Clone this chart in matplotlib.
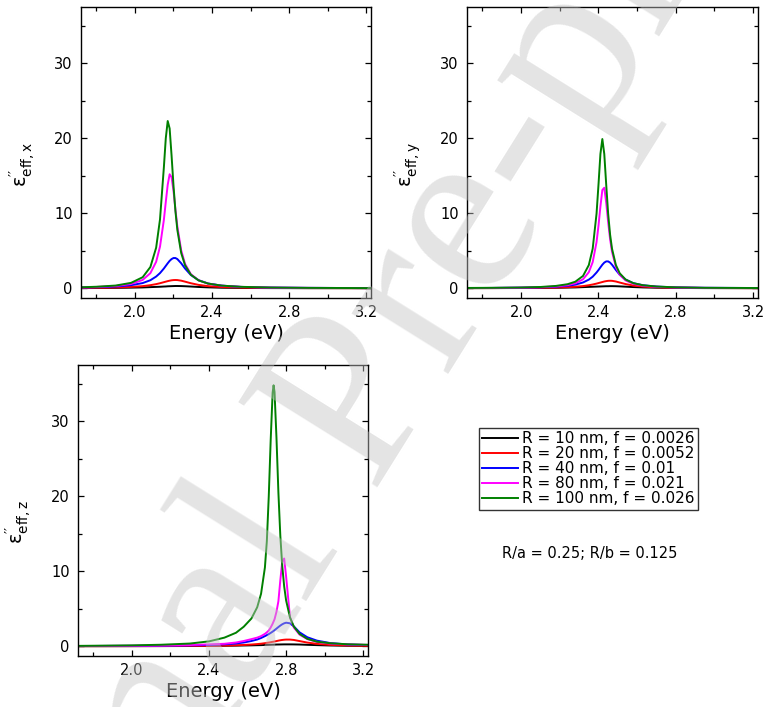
import matplotlib
matplotlib.use("Agg")
import matplotlib.pyplot as plt
from matplotlib.ticker import MultipleLocator

plt.rcParams['font.family'] = ['DejaVu Sans']
plt.rcParams['mathtext.fontset'] = 'dejavusans'

# ---------------- data ----------------
labels = ["R = 10 nm, f = 0.0026", "R = 20 nm, f = 0.0052", "R = 40 nm, f = 0.01",
          "R = 80 nm, f = 0.021", "R = 100 nm, f = 0.026"]
colors = ["#000000", "#ff0000", "#0000ff", "#ff00ff", "#008000"]

# panel x
ex_energy = [1.72, 1.80, 1.90, 1.98, 2.04, 2.08, 2.11, 2.13, 2.15, 2.16, 2.17, 2.18, 2.19,
             2.20, 2.21, 2.22, 2.24, 2.26, 2.29, 2.33, 2.38, 2.45, 2.55, 2.70, 2.90, 3.225]
ex_r10 = [0.02, 0.03, 0.05, 0.08, 0.11, 0.15, 0.18, 0.20, 0.23, 0.24, 0.26, 0.27, 0.28,
          0.29, 0.30, 0.30, 0.29, 0.27, 0.23, 0.17, 0.12, 0.07, 0.04, 0.02, 0.01, 0.005]
ex_r20 = [0.04, 0.06, 0.10, 0.18, 0.28, 0.41, 0.55, 0.67, 0.81, 0.88, 0.95, 1.01, 1.06,
          1.09, 1.10, 1.09, 1.01, 0.88, 0.67, 0.45, 0.28, 0.16, 0.09, 0.04, 0.02, 0.01]
ex_r40 = [0.10, 0.13, 0.23, 0.41, 0.69, 1.07, 1.56, 2.02, 2.63, 2.98, 3.33, 3.65, 3.89,
          4.03, 4.03, 3.89, 3.33, 2.63, 1.77, 1.07, 0.63, 0.35, 0.18, 0.09, 0.05, 0.02]
ex_r80 = [0.11, 0.17, 0.30, 0.57, 1.11, 2.01, 3.53, 5.55, 9.10, 11.5, 13.8, 15.2, 14.8,
          13.0, 10.5, 8.24, 5.05, 3.25, 1.88, 1.06, 0.61, 0.34, 0.18, 0.09, 0.05, 0.02]
ex_r100 = [0.13, 0.20, 0.36, 0.72, 1.47, 2.83, 5.41, 9.18, 16.1, 20.0, 22.3, 21.3, 17.7,
           13.7, 10.3, 7.78, 4.69, 3.06, 1.81, 1.05, 0.62, 0.35, 0.19, 0.10, 0.05, 0.02]

# panel y
ey_energy = [1.72, 1.85, 2.00, 2.10, 2.18, 2.24, 2.28, 2.32, 2.35, 2.37, 2.39, 2.40, 2.41, 2.42,
             2.43, 2.44, 2.45, 2.46, 2.47, 2.49, 2.51, 2.54, 2.58, 2.63, 2.70, 2.80, 2.95, 3.225]
ey_r10 = [0.01, 0.02, 0.03, 0.04, 0.06, 0.09, 0.11, 0.15, 0.18, 0.20, 0.22, 0.23, 0.24, 0.25,
          0.26, 0.27, 0.27, 0.28, 0.28, 0.27, 0.25, 0.21, 0.16, 0.11, 0.07, 0.04, 0.02, 0.01]
ey_r20 = [0.02, 0.02, 0.04, 0.06, 0.09, 0.14, 0.20, 0.29, 0.40, 0.50, 0.62, 0.69, 0.76, 0.83,
          0.90, 0.95, 0.99, 1.00, 0.99, 0.90, 0.76, 0.56, 0.36, 0.22, 0.12, 0.07, 0.03, 0.01]
ey_r40 = [0.03, 0.04, 0.08, 0.12, 0.20, 0.33, 0.48, 0.77, 1.15, 1.54, 2.10, 2.43, 2.79, 3.14,
          3.42, 3.58, 3.58, 3.42, 3.14, 2.43, 1.80, 1.15, 0.68, 0.40, 0.22, 0.12, 0.06, 0.03]
ey_r80 = [0.03, 0.04, 0.08, 0.14, 0.24, 0.41, 0.66, 1.19, 2.14, 3.48, 6.16, 8.33, 10.9, 13.1,
          13.4, 11.4, 8.83, 6.55, 4.86, 2.84, 1.80, 1.05, 0.59, 0.34, 0.19, 0.10, 0.05, 0.02]
ey_r100 = [0.04, 0.06, 0.10, 0.17, 0.31, 0.54, 0.87, 1.64, 3.09, 5.27, 9.95, 13.8, 17.9, 19.9,
           17.9, 13.8, 9.95, 7.16, 5.27, 3.09, 1.99, 1.17, 0.68, 0.40, 0.23, 0.12, 0.06, 0.03]

# panel z
ez_energy = [1.72, 1.85, 2.00, 2.15, 2.30, 2.40, 2.48, 2.54, 2.58, 2.62, 2.65, 2.67, 2.69, 2.70,
             2.71, 2.72, 2.73, 2.735, 2.74, 2.75, 2.76, 2.77, 2.78, 2.79, 2.80, 2.82, 2.84,
             2.87, 2.91, 2.96, 3.03, 3.12, 3.225]
ez_r10 = [0.005, 0.008, 0.012, 0.02, 0.03, 0.045, 0.06, 0.08, 0.10, 0.12, 0.14, 0.15, 0.17, 0.18,
          0.19, 0.20, 0.21, 0.21, 0.22, 0.23, 0.235, 0.24, 0.245, 0.25, 0.25, 0.25, 0.245,
          0.23, 0.19, 0.15, 0.10, 0.06, 0.04]
ez_r20 = [0.01, 0.012, 0.016, 0.024, 0.04, 0.06, 0.09, 0.13, 0.17, 0.23, 0.29, 0.34, 0.41, 0.45,
          0.49, 0.54, 0.59, 0.61, 0.64, 0.69, 0.75, 0.80, 0.84, 0.87, 0.89, 0.89, 0.84,
          0.69, 0.49, 0.32, 0.18, 0.10, 0.06]
ez_r40 = [0.03, 0.04, 0.05, 0.07, 0.11, 0.17, 0.26, 0.37, 0.50, 0.70, 0.90, 1.10, 1.35, 1.48,
          1.62, 1.78, 1.95, 2.05, 2.15, 2.35, 2.56, 2.76, 2.93, 3.06, 3.14, 3.06, 2.65,
          1.85, 1.20, 0.75, 0.42, 0.24, 0.15]
ez_r80 = [0.03, 0.04, 0.06, 0.09, 0.16, 0.25, 0.33, 0.50, 0.70, 0.95, 1.15, 1.35, 1.65, 1.85,
          2.10, 2.50, 3.00, 3.30, 3.60, 4.60, 6.00, 8.80, 11.3, 11.7, 9.30, 3.90, 2.50,
          1.55, 0.95, 0.58, 0.36, 0.24, 0.18]
ez_r100 = [0.05, 0.08, 0.12, 0.20, 0.36, 0.65, 1.15, 1.80, 2.60, 3.70, 5.20, 7.00, 10.5, 14.0,
           20.0, 27.5, 33.8, 34.8, 33.9, 27.8, 20.5, 14.7, 10.7, 7.98, 6.11, 3.85, 2.63,
           1.64, 0.99, 0.61, 0.40, 0.26, 0.20]

x_ticks = [2.0, 2.4, 2.8, 3.2]
y_ticks = [0, 10, 20, 30]
ylabels = [r'$\mathregular{\varepsilon^{\prime\prime}_{eff,x}}$',
           r'$\mathregular{\varepsilon^{\prime\prime}_{eff,y}}$',
           r'$\mathregular{\varepsilon^{\prime\prime}_{eff,z}}$']
xlabel = "Energy (eV)"
note = "R/a = 0.25; R/b = 0.125"
watermark = "Journal Pre-proof"

# ---------------- figure ----------------
W, H = 767, 707
fig = plt.figure(figsize=(W / 100, H / 100), dpi=100)

def rect(l, r, t, b):
    return [l / W, 1 - b / H, (r - l) / W, (b - t) / H]

axes = [fig.add_axes(rect(81, 371, 7, 298)),
        fig.add_axes(rect(467, 758, 7, 298)),
        fig.add_axes(rect(78, 368, 365, 656))]

panels = [
    (ex_energy, [ex_r10, ex_r20, ex_r40, ex_r80, ex_r100]),
    (ey_energy, [ey_r10, ey_r20, ey_r40, ey_r80, ey_r100]),
    (ez_energy, [ez_r10, ez_r20, ez_r40, ez_r80, ez_r100]),
]

handles = []
for i, (ax, (en, series)) in enumerate(zip(axes, panels)):
    hs = []
    for ys, c, lab in zip(series, colors, labels):
        h, = ax.plot(en, ys, color=c, lw=1.4, label=lab)
        hs.append(h)
    handles = hs
    ax.set_xlim(1.72, 3.225)
    ax.set_ylim(-1.3, 37.5)
    ax.set_xticks(x_ticks)
    ax.set_xticklabels([f"{t:.1f}" for t in x_ticks])
    ax.set_yticks(y_ticks)
    ax.xaxis.set_minor_locator(MultipleLocator(0.2))
    ax.yaxis.set_minor_locator(MultipleLocator(5))
    ax.tick_params(which='both', direction='in', top=True, right=True, labelsize=10.5)
    ax.tick_params(axis='x', pad=5)
    ax.tick_params(axis='y', pad=6)
    ax.tick_params(which='major', length=4.5, width=0.9)
    ax.tick_params(which='minor', length=3, width=0.9)
    for s in ax.spines.values():
        s.set_linewidth(1.0)
    ax.set_xlabel(xlabel, fontsize=14, labelpad=3)
    ax.set_ylabel(ylabels[i], fontsize=14)
    ax.yaxis.set_label_coords(-0.15, 0.46)

leg = fig.legend(handles=handles, loc='upper left',
                 bbox_to_anchor=(479 / W, 1 - 428 / H), fontsize=11,
                 frameon=True, fancybox=False, edgecolor='#333333', framealpha=1,
                 handlelength=2.3, handletextpad=0.3, labelspacing=0.0,
                 borderpad=0.22, borderaxespad=0)
leg.get_frame().set_linewidth(1.0)

fig.text(590 / W, 1 - 553 / H, note, fontsize=10.5, ha='center', va='center')

fig.text(364 / W, 1 - 395 / H, watermark, fontsize=178, family='Liberation Serif',
         color='#c4c4c4', alpha=0.45, rotation=58, rotation_mode='anchor',
         ha='center', va='center', zorder=10)

fig.savefig("out.png", dpi=100)
